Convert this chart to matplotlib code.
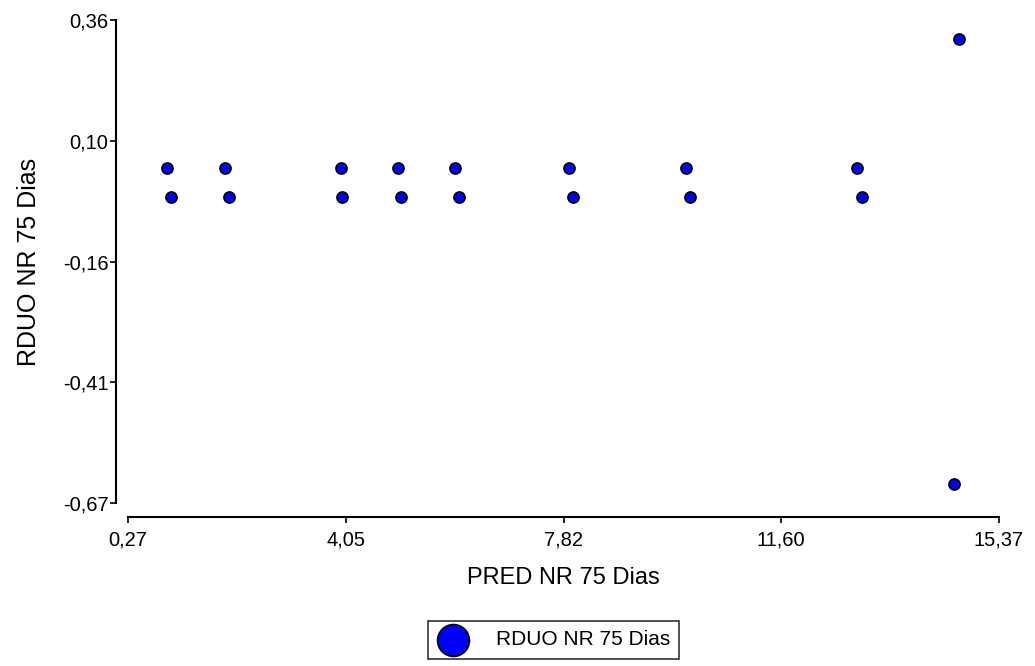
import matplotlib.pyplot as plt
from matplotlib.ticker import FixedLocator, FixedFormatter

plt.rcParams['font.family'] = ['Liberation Sans', 'DejaVu Sans']

# predicted vs residual, NR 75 dias
pred = [0.95, 1.02, 1.95, 2.02, 3.96, 3.98, 4.95, 5.01, 5.94, 6.01,
        7.92, 7.99, 9.94, 10.01, 12.91, 12.99, 14.59, 14.67]
rduo = [0.044, -0.018, 0.044, -0.018, 0.044, -0.018, 0.044, -0.018, 0.044, -0.018,
        0.044, -0.018, 0.044, -0.018, 0.044, -0.018, -0.629, 0.319]

xticks = [0.27, 4.045, 7.82, 11.595, 15.37]
xlabels = ['0,27', '4,05', '7,82', '11,60', '15,37']
yticks = [-0.67, -0.4125, -0.155, 0.1025, 0.36]
ylabels = ['-0,67', '-0,41', '-0,16', '0,10', '0,36']

fig = plt.figure(figsize=(10.35, 6.66), dpi=100)
W, H = 1035, 666
ax = fig.add_axes([128 / W, 1 - 503 / H, (999 - 128) / W, (503 - 20) / H])

ax.scatter(pred, rduo, s=62, c='#0000ff', edgecolors='black', linewidths=1.3,
           label='RDUO NR 75 Dias', zorder=3)

ax.set_xlim(0.27, 15.37)
ax.set_ylim(-0.67, 0.36)
ax.xaxis.set_major_locator(FixedLocator(xticks))
ax.xaxis.set_major_formatter(FixedFormatter(xlabels))
ax.yaxis.set_major_locator(FixedLocator(yticks))
ax.yaxis.set_major_formatter(FixedFormatter(ylabels))

for s in ['top', 'right']:
    ax.spines[s].set_visible(False)
ax.spines['left'].set_position(('outward', 8.6))
ax.spines['bottom'].set_position(('outward', 10))
for s in ['left', 'bottom']:
    ax.spines[s].set_linewidth(1.5)
ax.tick_params(direction='out', length=4.5, width=1.2, labelsize=14.5)
ax.tick_params(axis='y', pad=1)
ax.tick_params(axis='x', pad=5)

ax.set_xlabel('PRED NR 75 Dias', fontsize=17, labelpad=13)
ax.set_ylabel('RDUO NR 75 Dias', fontsize=18, labelpad=16)

leg = fig.legend(loc='upper left', bbox_to_anchor=(428 / W, 1 - 621 / H),
                 frameon=True, fancybox=False, edgecolor='black', fontsize=15,
                 markerscale=2.9, borderpad=0.45, handlelength=1.5,
                 handletextpad=1.3, borderaxespad=0)
leg.get_frame().set_linewidth(1.2)

fig.savefig('out.png', dpi=100)
